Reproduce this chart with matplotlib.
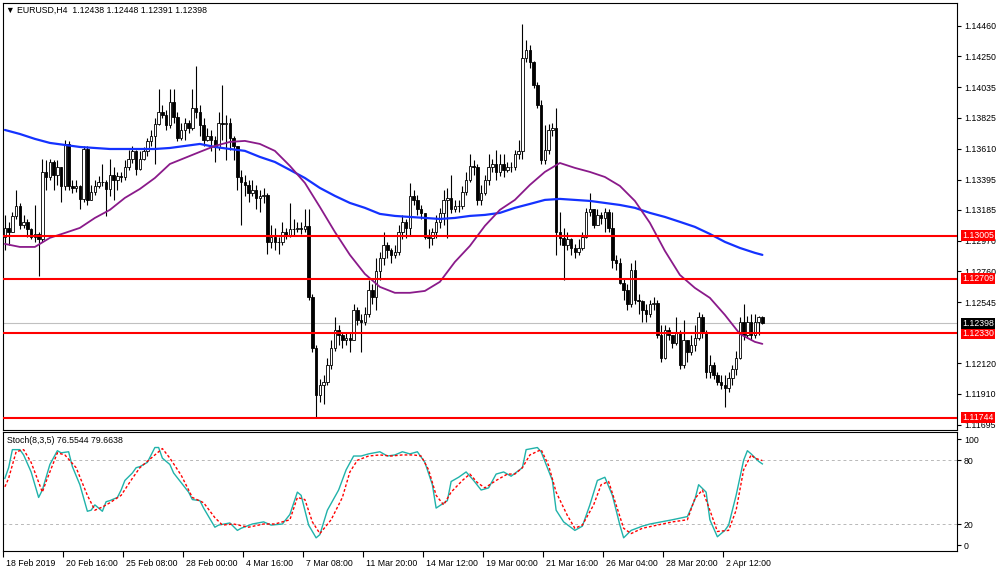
import numpy as np
import matplotlib
matplotlib.use('Agg')
import matplotlib.pyplot as plt
from matplotlib.transforms import ScaledTranslation, blended_transform_factory

# ---------------- data (EURUSD H4) ----------------
first_open = 1.1300
closes = [
    1.1306, 1.1303, 1.1314, 1.1321, 1.1308, 1.1310, 1.1305, 1.1300, 1.1302, 1.1298,
    1.1345, 1.1341, 1.1352, 1.1343, 1.1348, 1.1335, 1.1364, 1.1335, 1.1334, 1.1335,
    1.1326, 1.1361, 1.1325, 1.1331, 1.1335, 1.1338, 1.1338, 1.1333, 1.1343, 1.1339,
    1.1342, 1.1341, 1.1348, 1.1354, 1.1359, 1.1347, 1.1354, 1.1359, 1.1366, 1.1370,
    1.1378, 1.1386, 1.1384, 1.1377, 1.1393, 1.1383, 1.1368, 1.1374, 1.1379, 1.1375,
    1.1389, 1.1386, 1.1377, 1.1367, 1.1370, 1.1367, 1.1362, 1.1379, 1.1378, 1.1379,
    1.1368, 1.1363, 1.1341, 1.1338, 1.1336, 1.1330, 1.1332, 1.1327, 1.1328, 1.1329,
    1.1296, 1.1300, 1.1296, 1.1296, 1.1303, 1.1301, 1.1305, 1.1305, 1.1306, 1.1305,
    1.1307, 1.1258, 1.1223, 1.1190, 1.1197, 1.1199, 1.1211, 1.1223, 1.1235, 1.1232,
    1.1228, 1.1230, 1.1228, 1.1249, 1.1242, 1.1241, 1.1246, 1.1263, 1.1258, 1.1276,
    1.1285, 1.1294, 1.1291, 1.1287, 1.1289, 1.1303, 1.1310, 1.1306, 1.1328, 1.1325,
    1.1319, 1.1316, 1.1300, 1.1299, 1.1303, 1.1310, 1.1316, 1.1325, 1.1327, 1.1319,
    1.1321, 1.1321, 1.1331, 1.1339, 1.1349, 1.1348, 1.1325, 1.1330, 1.1339, 1.1348,
    1.1350, 1.1345, 1.1350, 1.1346, 1.1348, 1.1348, 1.1357, 1.1359, 1.1424, 1.1429,
    1.1421, 1.1405, 1.1391, 1.1353, 1.1360, 1.1374, 1.1375, 1.1303, 1.1299, 1.1294,
    1.1298, 1.1292, 1.1289, 1.1292, 1.1300, 1.1317, 1.1319, 1.1308, 1.1315, 1.1313,
    1.1317, 1.1306, 1.1284, 1.1282, 1.1268, 1.1263, 1.1253, 1.1277, 1.1256, 1.1255,
    1.1249, 1.1246, 1.1253, 1.1254, 1.1232, 1.1216, 1.1235, 1.1232, 1.1226, 1.1233,
    1.1211, 1.1228, 1.1220, 1.1225, 1.1230, 1.1244, 1.1234, 1.1206, 1.1211, 1.1204,
    1.1199, 1.1197, 1.1195, 1.1202, 1.1208, 1.1216, 1.1241, 1.1232, 1.1241, 1.1232,
    1.1241, 1.1244, 1.12398]
highs = [
    1.1315, 1.1310, 1.1317, 1.1332, 1.1323, 1.1315, 1.1312, 1.1306, 1.1322, 1.1303,
    1.1354, 1.1353, 1.1354, 1.1353, 1.1353, 1.1346, 1.1367, 1.1366, 1.1339, 1.1339,
    1.1336, 1.1363, 1.1363, 1.1336, 1.1339, 1.1342, 1.1350, 1.1339, 1.1354, 1.1348,
    1.1345, 1.1345, 1.1353, 1.1360, 1.1363, 1.1360, 1.1359, 1.1362, 1.1368, 1.1374,
    1.1382, 1.1402, 1.1391, 1.1388, 1.1402, 1.1402, 1.1386, 1.1379, 1.1382, 1.1381,
    1.1402, 1.1418, 1.1391, 1.1382, 1.1375, 1.1374, 1.1370, 1.1386, 1.1405, 1.1384,
    1.1382, 1.1370, 1.1361, 1.1346, 1.1343, 1.1339, 1.1339, 1.1336, 1.1332, 1.1334,
    1.1330, 1.1308, 1.1306, 1.1300, 1.1310, 1.1306, 1.1323, 1.1312, 1.1310, 1.1310,
    1.1319, 1.1319, 1.1260, 1.1225, 1.1201, 1.1204, 1.1216, 1.1228, 1.1244, 1.1239,
    1.1234, 1.1234, 1.1233, 1.1253, 1.1251, 1.1246, 1.1251, 1.1270, 1.1267, 1.1285,
    1.1289, 1.1303, 1.1296, 1.1292, 1.1294, 1.1308, 1.1315, 1.1312, 1.1337, 1.1332,
    1.1329, 1.1322, 1.1315, 1.1305, 1.1306, 1.1315, 1.1320, 1.1332, 1.1334, 1.1343,
    1.1325, 1.1325, 1.1335, 1.1345, 1.1357, 1.1353, 1.1350, 1.1336, 1.1343, 1.1357,
    1.1354, 1.1360, 1.1357, 1.1357, 1.1352, 1.1352, 1.1360, 1.1367, 1.1447, 1.1436,
    1.1433, 1.1422, 1.1407, 1.1395, 1.1377, 1.1378, 1.1379, 1.1389, 1.1317, 1.1306,
    1.1303, 1.1299, 1.1295, 1.1298, 1.1303, 1.1320, 1.1330, 1.1319, 1.1319, 1.1317,
    1.1320, 1.1319, 1.1317, 1.1287, 1.1285, 1.1271, 1.1267, 1.1282, 1.1284, 1.1260,
    1.1256, 1.1253, 1.1256, 1.1258, 1.1256, 1.1239, 1.1239, 1.1237, 1.1232, 1.1244,
    1.1235, 1.1242, 1.1228, 1.1232, 1.1239, 1.1248, 1.1246, 1.1235, 1.1218, 1.1213,
    1.1206, 1.1204, 1.1204, 1.1206, 1.1211, 1.1221, 1.1244, 1.1253, 1.1245, 1.1246,
    1.1246, 1.1245, 1.12448]
lows = [
    1.1291, 1.1294, 1.1303, 1.1312, 1.1305, 1.1306, 1.1300, 1.1298, 1.1296, 1.1273,
    1.1296, 1.1332, 1.1339, 1.1332, 1.1336, 1.1324, 1.1332, 1.1332, 1.1330, 1.1331,
    1.1319, 1.1324, 1.1322, 1.1325, 1.1329, 1.1334, 1.1335, 1.1314, 1.1328, 1.1325,
    1.1332, 1.1338, 1.1339, 1.1346, 1.1351, 1.1343, 1.1346, 1.1353, 1.1356, 1.1363,
    1.1350, 1.1377, 1.1382, 1.1374, 1.1375, 1.1379, 1.1366, 1.1367, 1.1367, 1.1372,
    1.1374, 1.1382, 1.1370, 1.1363, 1.1366, 1.1359, 1.1352, 1.1360, 1.1367, 1.1353,
    1.1360, 1.1353, 1.1332, 1.1308, 1.1328, 1.1324, 1.1328, 1.1319, 1.1317, 1.1323,
    1.1288, 1.1292, 1.1291, 1.1288, 1.1294, 1.1298, 1.1300, 1.1301, 1.1303, 1.1302,
    1.1303, 1.1256, 1.1220, 1.1174, 1.1185, 1.1184, 1.1197, 1.1208, 1.1221, 1.1225,
    1.1223, 1.1225, 1.1220, 1.1228, 1.1239, 1.1220, 1.1239, 1.1244, 1.1253, 1.1249,
    1.1270, 1.1280, 1.1285, 1.1282, 1.1285, 1.1287, 1.1298, 1.1299, 1.1301, 1.1322,
    1.1315, 1.1312, 1.1298, 1.1292, 1.1294, 1.1299, 1.1306, 1.1308, 1.1299, 1.1316,
    1.1317, 1.1317, 1.1319, 1.1329, 1.1338, 1.1343, 1.1322, 1.1322, 1.1329, 1.1336,
    1.1345, 1.1339, 1.1342, 1.1341, 1.1345, 1.1345, 1.1346, 1.1354, 1.1354, 1.1421,
    1.1417, 1.1403, 1.1389, 1.1350, 1.1350, 1.1357, 1.1370, 1.1287, 1.1294, 1.1270,
    1.1291, 1.1287, 1.1285, 1.1287, 1.1291, 1.1299, 1.1314, 1.1306, 1.1308, 1.1309,
    1.1303, 1.1303, 1.1278, 1.1277, 1.1267, 1.1256, 1.1249, 1.1251, 1.1253, 1.1246,
    1.1241, 1.1241, 1.1244, 1.1249, 1.1230, 1.1213, 1.1215, 1.1228, 1.1223, 1.1225,
    1.1208, 1.1209, 1.1213, 1.1218, 1.1221, 1.1228, 1.1230, 1.1202, 1.1202, 1.1201,
    1.1197, 1.1194, 1.1182, 1.1192, 1.1197, 1.1204, 1.1215, 1.1228, 1.1230, 1.1228,
    1.1230, 1.1232, 1.12391]

# moving averages read every 4 bars (plus last bar)
ma_idx = list(range(0, 201, 4)) + [202]
ma_blue = [
    1.13739, 1.13711, 1.13677, 1.13649, 1.13635, 1.13621, 1.13614, 1.13607, 1.13607, 1.13607,
    1.13607, 1.13614, 1.13628, 1.13642, 1.13621, 1.13607, 1.13594, 1.13552, 1.13517, 1.13462,
    1.13406, 1.13337, 1.13282, 1.13233, 1.13199, 1.13157, 1.13143, 1.13136, 1.13129, 1.13122,
    1.13129, 1.13143, 1.13150, 1.13164, 1.13199, 1.13226, 1.13254, 1.13261, 1.13254, 1.13247,
    1.13233, 1.13219, 1.13199, 1.13164, 1.13136, 1.13102, 1.13067, 1.13018, 1.12963, 1.12921,
    1.12887, 1.12873]
ma_purple = [
    1.12949, 1.12928, 1.12928, 1.12991, 1.13025, 1.13060, 1.13129, 1.13185, 1.13268, 1.13330,
    1.13406, 1.13503, 1.13545, 1.13587, 1.13628, 1.13656, 1.13663, 1.13642, 1.13594, 1.13490,
    1.13372, 1.13205, 1.13032, 1.12873, 1.12741, 1.12651, 1.12610, 1.12610, 1.12623, 1.12686,
    1.12824, 1.12935, 1.13074, 1.13185, 1.13254, 1.13358, 1.13448, 1.13510, 1.13476, 1.13448,
    1.13413, 1.13351, 1.13247, 1.13095, 1.12901, 1.12734, 1.12644, 1.12575, 1.12457, 1.12325,
    1.12270, 1.12256]

# Stochastic (8,3,5)
stoch_main_idx = [0, 1, 2, 4, 5, 7, 9, 10, 12, 14, 15, 17, 18, 20, 22, 23, 24, 26, 27, 28,
                  30, 31, 32, 34, 35, 36, 38, 40, 41, 42, 44, 45, 47, 49, 50, 52, 53, 54, 56, 57,
                  60, 62, 63, 66, 69, 71, 74, 76, 78, 79, 81, 83, 84, 86, 89, 91, 93, 95, 97, 100,
                  102, 104, 106, 108, 110, 112, 114, 115, 118, 119, 121, 123, 125, 127, 129, 131,
                  133, 135, 138, 139, 142, 143, 146, 147, 149, 152, 154, 156, 158, 160, 162, 164,
                  165, 167, 170, 172, 175, 178, 182, 184, 185, 187, 188, 190, 192, 193, 195, 197,
                  198, 199, 201, 202]
stoch_main = [63, 73, 90, 90, 85, 69, 45, 52, 76, 89, 87, 88, 74, 57, 32, 33, 38, 32, 41, 42,
              45, 52, 61, 68, 73, 74, 78, 92, 92, 82, 76, 68, 59, 50, 43, 42, 35, 29, 17, 19,
              21, 14, 16, 20, 22, 19, 20, 29, 50, 47, 19, 7, 10, 33, 52, 71, 84, 84, 86, 88,
              84, 85, 88, 86, 88, 78, 57, 35, 42, 60, 64, 69, 61, 52, 54, 67, 69, 65, 73, 90,
              92, 88, 61, 33, 22, 14, 18, 38, 61, 64, 47, 19, 7, 14, 18, 20, 22, 24, 27, 43,
              57, 50, 24, 8, 14, 19, 47, 80, 89, 86, 79, 76.5544]
stoch_sig_idx = [0, 1, 3, 5, 7, 10, 11, 14, 16, 19, 22, 24, 26, 28, 31, 34, 36, 39, 42, 44,
                 47, 50, 53, 56, 58, 61, 65, 69, 72, 76, 78, 80, 82, 84, 87, 90, 92, 94, 97, 100,
                 103, 106, 109, 111, 113, 115, 117, 119, 122, 124, 126, 128, 131, 134, 136, 138,
                 140, 143, 145, 147, 150, 152, 154, 157, 159, 161, 163, 165, 167, 170, 174, 178,
                 182, 184, 186, 188, 190, 193, 195, 197, 199, 200, 202]
stoch_sig = [55, 63, 88, 90, 78, 50, 60, 87, 85, 73, 47, 33, 36, 40, 47, 63, 73, 82, 91, 82,
             66, 45, 40, 26, 19, 20, 17, 20, 20, 24, 45, 43, 22, 11, 24, 45, 69, 80, 84, 85,
             84, 85, 85, 84, 71, 47, 38, 50, 61, 67, 59, 54, 61, 67, 67, 73, 85, 90, 75, 50,
             28, 16, 19, 38, 57, 60, 38, 16, 11, 16, 19, 22, 24, 44, 52, 33, 13, 14, 33, 71,
             85, 82, 79.6638]

levels = [1.13005, 1.12709, 1.12330, 1.11744]
last_price = 1.12398
price_ticks = [1.14460, 1.14250, 1.14035, 1.13825, 1.13610, 1.13395, 1.13185,
               1.12970, 1.12760, 1.12545, 1.12120, 1.11910, 1.11695]
stoch_ticks = [100, 80, 20, 0]
stoch_levels = [80, 20]
time_tick_bars = [0, 16, 32, 48, 64, 80, 96, 112, 128, 144, 160, 176, 192]
time_labels = ['18 Feb 2019', '20 Feb 16:00', '25 Feb 08:00', '28 Feb 00:00', '4 Mar 16:00',
               '7 Mar 08:00', '11 Mar 20:00', '14 Mar 12:00', '19 Mar 00:00', '21 Mar 16:00',
               '26 Mar 04:00', '28 Mar 20:00', '2 Apr 12:00']
title = '\u25bc EURUSD,H4  1.12438 1.12448 1.12391 1.12398'
stoch_title = 'Stoch(8,3,5) 76.5544 79.6638'

# ---------------- figure ----------------
plt.rcParams['font.family'] = ['Liberation Sans', 'DejaVu Sans']
FS = 6.3
W, H = 1000, 571
fig = plt.figure(figsize=(W / 100, H / 100), dpi=100)
fig.patch.set_facecolor('white')


def frame(x0, y0, x1, y1):
    return [x0 / W, 1 - y1 / H, (x1 - x0) / W, (y1 - y0) / H]


ax = fig.add_axes(frame(3, 3, 957, 430))
ax2 = fig.add_axes(frame(3, 432, 957, 551), sharex=ax)

n = len(closes)
idx = np.arange(n)
c = np.array(closes)
o = np.array([first_open] + closes[:-1])
hi = np.maximum(np.array(highs), np.maximum(o, c))
lo = np.minimum(np.array(lows), np.minimum(o, c))

ax.vlines(idx, lo, hi, color='black', lw=0.8, zorder=2)
bull = c >= o
ax.bar(idx[bull], (c - o)[bull], bottom=o[bull], width=0.62, color='white',
       edgecolor='black', linewidth=0.6, zorder=3)
ax.bar(idx[~bull], (c - o)[~bull], bottom=o[~bull], width=0.62, color='black',
       edgecolor='black', linewidth=0.6, zorder=3)

ax.plot(ma_idx, ma_blue, color='#1432ff', lw=1.6, zorder=4, solid_capstyle='round')
ax.plot(ma_idx, ma_purple, color='#8a1a8a', lw=1.3, zorder=4, solid_capstyle='round')

ax.axhline(last_price, color='#c0c0c0', lw=0.8, zorder=1.5)
for lv in levels:
    ax.axhline(lv, color='#ff0000', lw=1.5, zorder=5)

ax.set_xlim(-0.5, 253.9)
ax.set_ylim(1.11659, 1.14619)

ax.yaxis.tick_right()
ax.set_yticks(price_ticks)
ax.set_yticklabels([f'{t:.5f}' for t in price_ticks])
ax.tick_params(axis='y', direction='out', length=3, width=0.8, pad=2,
               labelsize=FS, colors='black')
ax.tick_params(axis='x', bottom=False, labelbottom=False)

trans = blended_transform_factory(ax.transAxes, ax.transData)
for lv in levels:
    ax.text(1.0055, lv, f'{lv:.5f}', transform=trans, color='white', fontsize=FS,
            va='center', ha='left', clip_on=False, zorder=10,
            bbox=dict(boxstyle='square,pad=0.12', fc='#ff0000', ec='none'))
ax.text(1.0055, last_price, f'{last_price:.5f}', transform=trans, color='white',
        fontsize=FS, va='center', ha='left', clip_on=False, zorder=10,
        bbox=dict(boxstyle='square,pad=0.12', fc='black', ec='none'))

ax.text(0.003, 0.984, title, transform=ax.transAxes, fontsize=FS, va='center', ha='left')

# ---------------- stochastic panel ----------------
for lv in stoch_levels:
    ax2.axhline(lv, color='#b8b8b8', lw=0.7, ls=(0, (3, 3)), zorder=1)
ax2.plot(stoch_main_idx, stoch_main, color='#20b2aa', lw=1.0, zorder=3)
ax2.plot(stoch_sig_idx, stoch_sig, color='#ff0000', lw=1.0, ls=(0, (2, 1.5)), zorder=4)
ax2.set_ylim(-5.4, 106.6)
ax2.yaxis.tick_right()
ax2.set_yticks(stoch_ticks)
ax2.set_yticklabels([str(t) for t in stoch_ticks])
ax2.tick_params(axis='y', direction='out', length=3, width=0.8, pad=2, labelsize=FS)
ax2.text(0.0045, 0.93, stoch_title, transform=ax2.transAxes, fontsize=FS,
         va='center', ha='left')

ax2.set_xticks([b - 0.5 for b in time_tick_bars])
ax2.set_xticklabels(time_labels, ha='left')
ax2.tick_params(axis='x', direction='out', length=4, width=0.8, pad=2, labelsize=FS)
off = ScaledTranslation(3 / 100, 0, fig.dpi_scale_trans)
for lab in ax2.get_xticklabels():
    lab.set_transform(lab.get_transform() + off)

for a in (ax, ax2):
    for s in a.spines.values():
        s.set_color('black')
        s.set_linewidth(0.8)
    a.set_facecolor('white')

fig.savefig('out.png', dpi=100, facecolor='white')
